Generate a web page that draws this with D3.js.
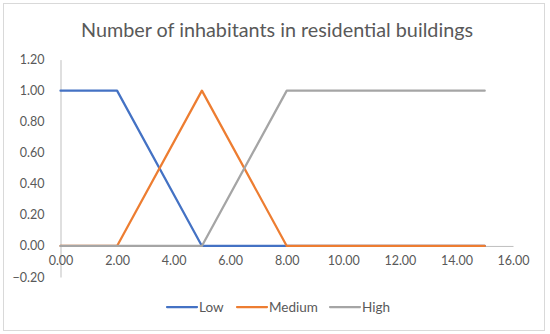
<!DOCTYPE html>
<html><head><meta charset="utf-8">
<script src="https://cdn.jsdelivr.net/npm/d3@7"></script>
<style>body{margin:0;background:#fff}</style>
</head><body>
<svg id="c" width="550" height="334"></svg>
<script>
const xValues = [0, 2, 5, 8, 15];
const lowValues = [1, 1, 0, 0, 0];
const mediumValues = [0, 0, 1, 0, 0];
const highValues = [0, 0, 0, 1, 1];
const seriesNames = ["Low", "Medium", "High"];
const seriesColors = ["#4472C4", "#ED7D31", "#A5A5A5"];
const xTicks = [0, 2, 4, 6, 8, 10, 12, 14, 16];
const yTicks = [-0.2, 0, 0.2, 0.4, 0.6, 0.8, 1.0, 1.2];
const title = "Number of inhabitants in residential buildings";

const svg = d3.select("#c");
const font = "Lato, 'Open Sans', sans-serif";
const txt = "#595959";

svg.append("rect").attr("x", 3.5).attr("y", 3.5).attr("width", 541).attr("height", 327)
  .attr("fill", "#fff").attr("stroke", "#D9D9D9").attr("stroke-width", 1);

svg.append("text").attr("x", 277).attr("y", 37).attr("text-anchor", "middle")
  .attr("font-family", font).attr("font-size", 19.8).attr("fill", txt).text(title);

const x = d3.scaleLinear().domain([0, 16]).range([60.5, 513]);
const y = d3.scaleLinear().domain([-0.2, 1.2]).range([277, 59.6]);

// y axis
const yAxis = svg.append("g").attr("transform", `translate(${x(0)},0)`)
  .call(d3.axisLeft(y).tickValues(yTicks).tickSize(0).tickPadding(16).tickFormat(d3.format(".2f")));
yAxis.select(".domain").attr("stroke", "#BFBFBF").attr("stroke-width", 1);
yAxis.selectAll("text").attr("font-family", font).attr("font-size", 12.5).attr("fill", txt);

// x axis at y=0
const xAxis = svg.append("g").attr("transform", `translate(0,${y(0)})`)
  .call(d3.axisBottom(x).tickValues(xTicks).tickSize(0).tickPadding(10).tickFormat(d3.format(".2f")));
xAxis.select(".domain").attr("stroke", "#BFBFBF").attr("stroke-width", 1);
xAxis.selectAll("text").attr("font-family", font).attr("font-size", 12.5).attr("fill", txt);

const allSeries = [lowValues, mediumValues, highValues];
const line = d3.line().x((d, i) => x(xValues[i])).y(d => y(d));
allSeries.forEach((vals, k) => {
  svg.append("path").datum(vals).attr("d", line).attr("fill", "none")
    .attr("stroke", seriesColors[k]).attr("stroke-width", 2.25)
    .attr("stroke-linejoin", "round").attr("stroke-linecap", "round");
});

// legend
const legendX = [167, 237, 330];
seriesNames.forEach((n, k) => {
  const g = svg.append("g").attr("transform", `translate(${legendX[k]},307)`);
  g.append("line").attr("x1", 0).attr("x2", 30).attr("y1", 0).attr("y2", 0)
    .attr("stroke", seriesColors[k]).attr("stroke-width", 2.25).attr("stroke-linecap", "round");
  g.append("text").attr("x", 32).attr("y", 4.5).attr("font-family", font).attr("font-size", 13.5)
    .attr("fill", txt).text(n);
});
</script>
</body></html>
